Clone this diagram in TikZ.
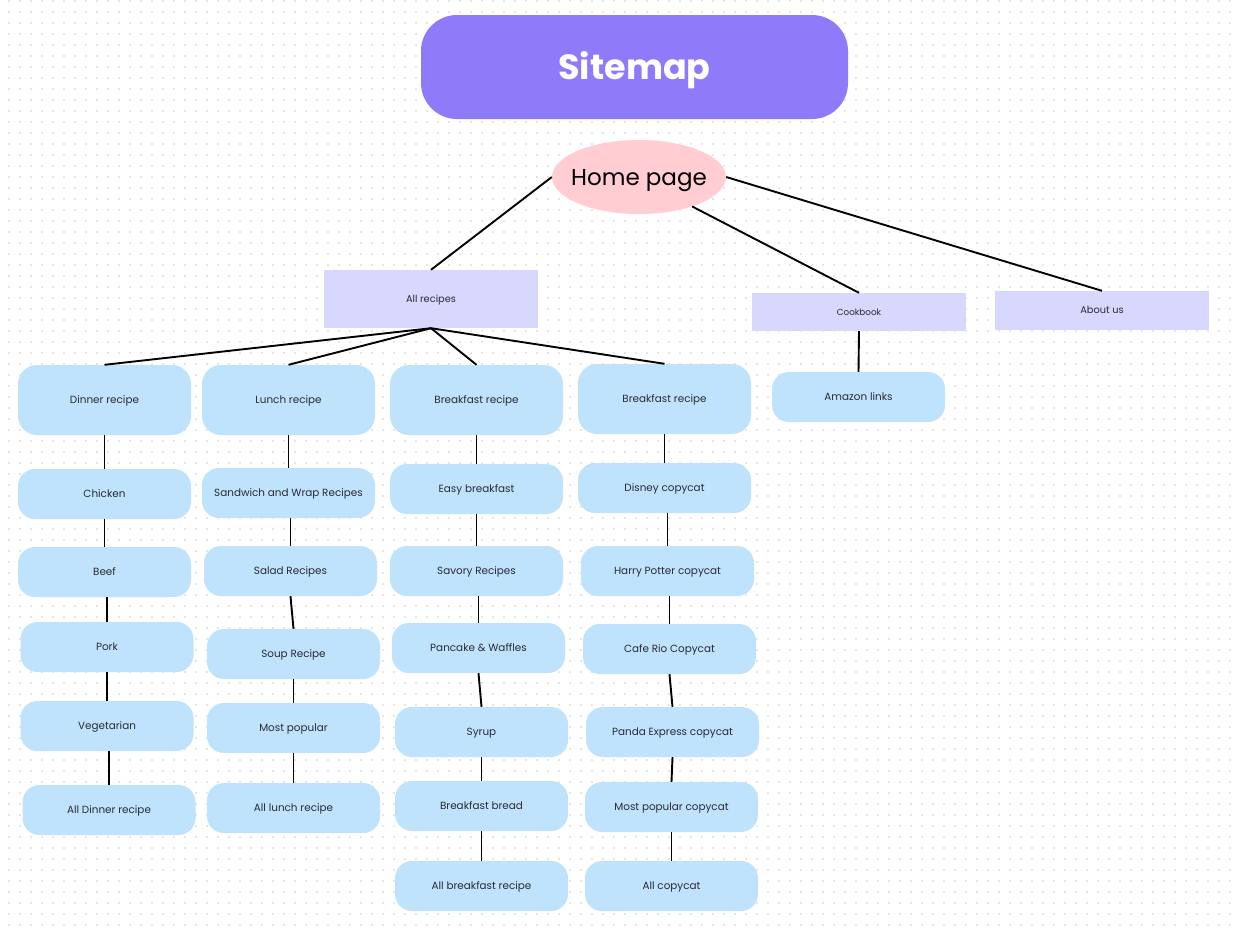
\documentclass[tikz,border=0pt]{standalone}
\usepackage{fontspec}
\setmainfont{Poppins}
\usetikzlibrary{shapes.geometric}
\definecolor{titlec}{HTML}{8F7BFA}
\definecolor{homec}{HTML}{FFCDD2}
\definecolor{lavc}{HTML}{D8D8FF}
\definecolor{leafc}{HTML}{BFE3FD}
\definecolor{dotc}{HTML}{E6E6E6}
\definecolor{txtc}{HTML}{2A2A33}
\tikzset{
  leaf/.style={draw=none, fill=leafc, rounded corners=17pt, minimum width=173pt, minimum height=50pt, inner sep=0pt, font=\fontsize{10.4}{12}\selectfont, text=txtc, text height=7.3pt, text depth=0pt},
  leaftall/.style={leaf, minimum height=70pt, rounded corners=19pt},
  sect/.style={fill=lavc, minimum width=214pt, inner sep=0pt, text=txtc},
  conn/.style={line width=1.9pt, black},
}
\begin{document}
\begin{tikzpicture}[x=1pt,y=-1pt]
\useasboundingbox (0,0) rectangle (1234,935);
\fill[white] (0,0) rectangle (1234,935);
% dot grid
\foreach \j in {0,...,84}{
  \draw[dotc, line width=1.5pt, dash pattern=on 1.5pt off 9.5pt] (8.25,1+11*\j) -- (1234,1+11*\j);
}
% title
\node[fill=titlec, rounded corners=36pt, minimum width=427pt, minimum height=104pt, inner sep=0pt, text=white, font=\fontsize{35}{40}\selectfont\bfseries, text height=24.5pt, text depth=0pt] (title) at (634.5,67) {Sitemap};
% home
\node[ellipse, fill=homec, minimum width=174pt, minimum height=74pt, inner sep=0pt] (home) at (639,177) {};
\node[inner sep=0pt, font=\fontsize{23}{26}\selectfont, text height=16pt, text depth=0pt] (hometext) at (home.center) {Home page};
% sections
\node[sect, minimum height=58pt, font=\fontsize{9.8}{11}\selectfont, text height=6.9pt, text depth=0pt] (allrec) at (431,299) {All recipes};
\node[sect, minimum height=38pt, font=\fontsize{8.8}{10}\selectfont, text height=6.2pt, text depth=0pt] (cook) at (859,312) {Cookbook};
\node[sect, minimum height=39pt, font=\fontsize{9.8}{11}\selectfont, text height=6.9pt, text depth=0pt] (about) at (1102,310.5) {About us};
% column 1
\node[leaftall] (dinner) at (104.5,400) {Dinner recipe};
\node[leaf] (chicken) at (104.5,494) {Chicken};
\node[leaf] (beef) at (104.5,572) {Beef};
\node[leaf] (pork) at (107,647) {Pork};
\node[leaf] (veg) at (107,726) {Vegetarian};
\node[leaf] (alldinner) at (109,810) {All Dinner recipe};
% column 2
\node[leaftall] (lunch) at (288.5,400) {Lunch recipe};
\node[leaf] (sandwich) at (288.5,493) {Sandwich and Wrap Recipes};
\node[leaf] (salad) at (290.5,571) {Salad Recipes};
\node[leaf] (soup) at (293.5,654) {Soup Recipe};
\node[leaf] (mostpop) at (293.5,728) {Most popular};
\node[leaf] (alllunch) at (293.5,808) {All lunch recipe};
% column 3
\node[leaftall] (breakfast) at (476.5,400) {Breakfast recipe};
\node[leaf] (easy) at (476.5,489) {Easy breakfast};
\node[leaf] (savory) at (476.5,571) {Savory Recipes};
\node[leaf] (pancake) at (478.5,648) {Pancake \& Waffles};
\node[leaf] (syrup) at (481.5,732) {Syrup};
\node[leaf] (bread) at (481.5,806) {Breakfast bread};
\node[leaf] (allbreak) at (481.5,886) {All breakfast recipe};
% column 4
\node[leaftall] (breakfastb) at (664.5,399) {Breakfast recipe};
\node[leaf] (disney) at (664.5,488) {Disney copycat};
\node[leaf] (harry) at (667.5,571) {Harry Potter copycat};
\node[leaf] (cafe) at (669.5,649) {Cafe Rio Copycat};
\node[leaf] (panda) at (672.5,732) {Panda Express copycat};
\node[leaf] (mostcopy) at (671.5,807) {Most popular copycat};
\node[leaf] (allcopy) at (671.5,886) {All copycat};
% column 5
\node[leaf] (amazon) at (858.5,397) {Amazon links};
% connectors
\draw[conn] (home.west) -- (allrec.north);
\draw[conn] (home.-29) -- (cook.north);
\draw[conn] (home.east) -- (about.north);
\draw[conn] (allrec.south) -- (dinner.north);
\draw[conn] (allrec.south) -- (lunch.north);
\draw[conn] (allrec.south) -- (breakfast.north);
\draw[conn] (allrec.south) -- (breakfastb.north);
\draw[conn] (cook.south) -- (amazon.north);
\draw[conn] (dinner.south) -- (chicken.north);
\draw[conn] (chicken.south) -- (beef.north);
\draw[conn] (beef.south -| pork.north) -- (pork.north);
\draw[conn] (pork.south) -- (veg.north);
\draw[conn] (veg.south -| alldinner.north) -- (alldinner.north);
\draw[conn] (lunch.south) -- (sandwich.north);
\draw[conn] (sandwich.south -| salad.north) -- (salad.north);
\draw[conn] (salad.south) -- (soup.north);
\draw[conn] (soup.south) -- (mostpop.north);
\draw[conn] (mostpop.south) -- (alllunch.north);
\draw[conn] (breakfast.south) -- (easy.north);
\draw[conn] (easy.south) -- (savory.north);
\draw[conn] (savory.south -| pancake.north) -- (pancake.north);
\draw[conn] (pancake.south) -- (syrup.north);
\draw[conn] (syrup.south) -- (bread.north);
\draw[conn] (bread.south) -- (allbreak.north);
\draw[conn] (breakfastb.south) -- (disney.north);
\draw[conn] (disney.south -| harry.north) -- (harry.north);
\draw[conn] (harry.south -| cafe.north) -- (cafe.north);
\draw[conn] (cafe.south) -- (panda.north);
\draw[conn] (panda.south) -- (mostcopy.north);
\draw[conn] (mostcopy.south) -- (allcopy.north);
\end{tikzpicture}
\end{document}
